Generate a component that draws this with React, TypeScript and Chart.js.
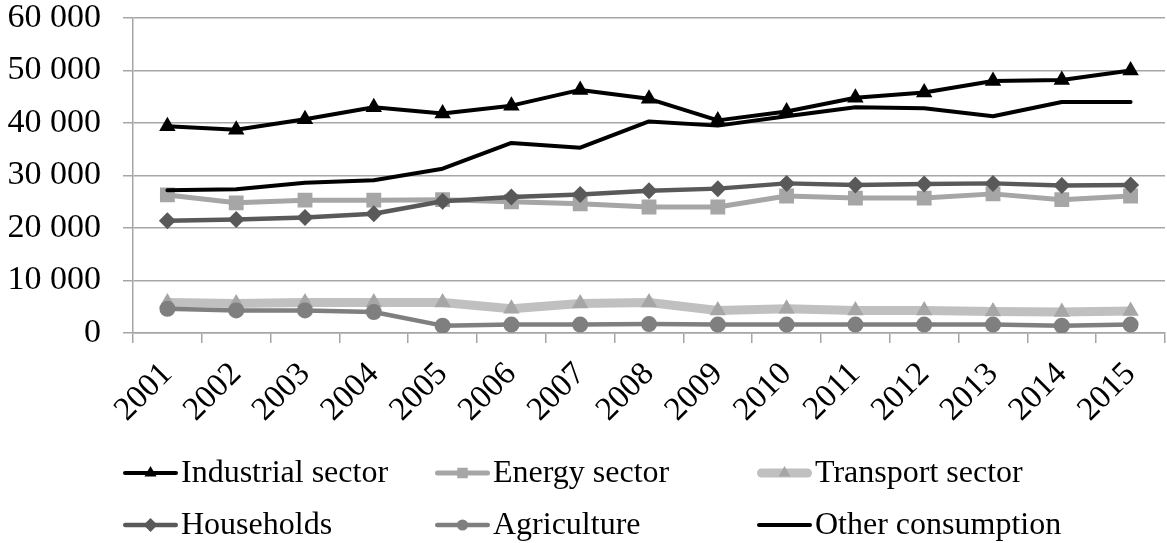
import React, { useEffect, useRef } from "react";
import { Chart, registerables } from "chart.js";

Chart.register(...registerables);

const years = ["2001", "2002", "2003", "2004", "2005", "2006", "2007", "2008", "2009", "2010", "2011", "2012", "2013", "2014", "2015"];
const industrial = [39400, 38700, 40700, 43000, 41800, 43300, 46300, 44600, 40500, 42200, 44800, 45800, 48000, 48200, 50000];
const energy = [26300, 24800, 25300, 25300, 25400, 25000, 24600, 24000, 24000, 26100, 25700, 25700, 26500, 25400, 26100];
const transport = [5800, 5600, 5800, 5800, 5800, 4600, 5600, 5800, 4300, 4600, 4300, 4300, 4100, 4000, 4200];
const households = [21400, 21600, 22000, 22700, 25100, 25900, 26400, 27100, 27500, 28500, 28200, 28400, 28500, 28100, 28200];
const agriculture = [4600, 4300, 4300, 4000, 1400, 1600, 1600, 1700, 1600, 1600, 1600, 1600, 1600, 1400, 1600];
const other = [27200, 27400, 28600, 29100, 31300, 36200, 35300, 40300, 39500, 41300, 43000, 42800, 41300, 44000, 44000];
const yTicks = [0, 10000, 20000, 30000, 40000, 50000, 60000];

const FONT = '"Liberation Serif", "Times New Roman", serif';

function fmt(v: number) {
  return String(v).replace(/\B(?=(\d{3})+(?!\d))/g, " ");
}

function drawMarker(ctx: CanvasRenderingContext2D, style: string, x: number, y: number, r: number, color: string) {
  ctx.save();
  ctx.fillStyle = color;
  ctx.beginPath();
  if (style === "triangle") {
    ctx.moveTo(x, y - r);
    ctx.lineTo(x + r * 0.866, y + r * 0.5);
    ctx.lineTo(x - r * 0.866, y + r * 0.5);
    ctx.closePath();
  } else if (style === "rect") {
    const s = r * 0.75;
    ctx.rect(x - s, y - s, 2 * s, 2 * s);
  } else if (style === "rectRot") {
    ctx.moveTo(x, y - r);
    ctx.lineTo(x + r, y);
    ctx.lineTo(x, y + r);
    ctx.lineTo(x - r, y);
    ctx.closePath();
  } else if (style === "circle") {
    ctx.arc(x, y, r * 0.8, 0, Math.PI * 2);
  }
  ctx.fill();
  ctx.restore();
}

const legendPlugin = {
  id: "customLegend",
  afterDraw(chart: any) {
    const ctx: CanvasRenderingContext2D = chart.ctx;
    const cols = [123, 435, 757];
    const rows = [473, 525];
    chart.data.datasets.forEach((ds: any, i: number) => {
      const x = cols[i % 3];
      const y = rows[Math.floor(i / 3)];
      ctx.save();
      ctx.strokeStyle = ds.borderColor;
      ctx.lineWidth = ds.borderWidth;
      ctx.lineCap = "round";
      ctx.beginPath();
      ctx.moveTo(x + ds.borderWidth / 2, y);
      ctx.lineTo(x + 55 - ds.borderWidth / 2, y);
      ctx.stroke();
      if (ds.pointRadius > 0) {
        drawMarker(ctx, ds.pointStyle, x + 27.5, y, 7, ds.pointBackgroundColor);
      }
      ctx.fillStyle = "#000";
      ctx.font = "32px " + FONT;
      ctx.textBaseline = "middle";
      ctx.textAlign = "left";
      ctx.fillText(ds.label, x + 58, y + 1);
      ctx.restore();
    });
  },
};

export default function App() {
  const ref = useRef<HTMLCanvasElement | null>(null);

  useEffect(() => {
    if (!ref.current) return;
    const mk = (label: string, data: number[], color: string, width: number, style: any, radius: number, ptColor: string, order: number) => ({
      label,
      data,
      borderColor: color,
      backgroundColor: ptColor,
      borderWidth: width,
      pointStyle: style,
      pointRadius: radius,
      pointBackgroundColor: ptColor,
      pointBorderColor: ptColor,
      pointBorderWidth: 0,
      tension: 0,
      borderJoinStyle: "round" as const,
      borderCapStyle: "round" as const,
      fill: false,
      order,
    });
    const chart = new Chart(ref.current, {
      type: "line",
      data: {
        labels: years,
        datasets: [
          mk("Industrial sector", industrial, "#000000", 4, "triangle", 9.5, "#000000", 6),
          mk("Energy sector", energy, "#a6a6a6", 5, "rect", 10.5, "#a6a6a6", 5),
          mk("Transport sector", transport, "#c0c0c0", 9, "triangle", 9.5, "#a6a6a6", 4),
          mk("Households", households, "#595959", 4.5, "rectRot", 8.5, "#595959", 3),
          mk("Agriculture", agriculture, "#7f7f7f", 4.5, "circle", 8, "#7f7f7f", 2),
          mk("Other consumption", other, "#000000", 4, "circle", 0, "#000000", 1),
        ],
      },
      options: {
        responsive: false,
        animation: false,
        devicePixelRatio: 1,
        layout: { autoPadding: false, padding: { top: 18, right: 2, bottom: 0, left: 0 } },
        plugins: { legend: { display: false }, tooltip: { enabled: false } },
        scales: {
          x: {
            offset: true,
            grid: { display: true, offset: true, drawOnChartArea: false, drawTicks: true, tickLength: 10, color: "#a6a6a6", lineWidth: 1.5 },
            border: { display: true, color: "#a6a6a6", width: 1.5 },
            ticks: { color: "#000", font: { family: FONT, size: 33 }, minRotation: 45, maxRotation: 45, padding: 12 },
            afterFit: (scale: any) => {
              scale.height = 210;
              scale.paddingLeft = 0;
              scale.paddingRight = 0;
              scale.paddingTop = 0;
              scale.paddingBottom = 0;
            },
          },
          y: {
            min: 0,
            max: 60000,
            afterBuildTicks: (scale: any) => { scale.ticks = yTicks.map((v) => ({ value: v })); },
            grid: { color: "#a6a6a6", lineWidth: 1.5, drawTicks: true, tickLength: 10 },
            border: { display: true, color: "#a6a6a6", width: 1.5 },
            ticks: { color: "#000", font: { family: FONT, size: 34, lineHeight: 1.1 }, padding: 22, callback: (v: any) => fmt(Number(v)) },
            afterFit: (scale: any) => {
              scale.width = 133;
              scale.paddingTop = 0;
              scale.paddingBottom = 0;
              scale.paddingLeft = 0;
              scale.paddingRight = 0;
            },
          },
        },
      },
      plugins: [legendPlugin],
    });
    return () => chart.destroy();
  }, []);

  return (
    <div style={{ position: "fixed", left: 0, top: 0, width: 1167, height: 543, background: "#fff" }}>
      <canvas ref={ref} width={1167} height={543} />
    </div>
  );
}
